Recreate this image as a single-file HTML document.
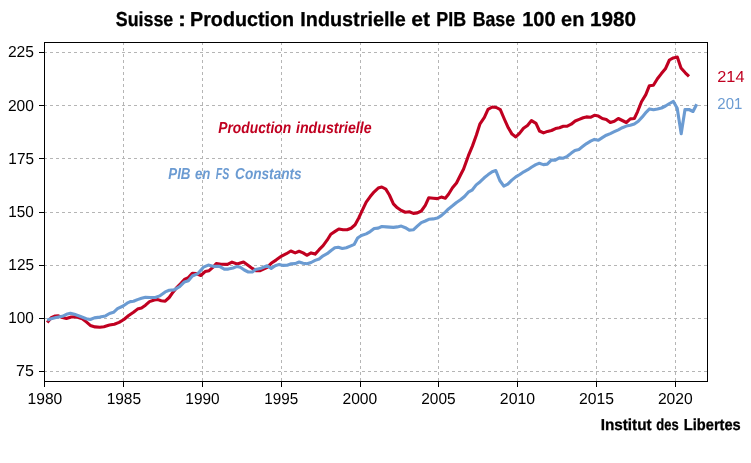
<!DOCTYPE html>
<html lang="fr">
<head>
<meta charset="utf-8">
<title>Suisse : Production Industrielle et PIB Base 100 en 1980</title>
<style>
html,body{margin:0;padding:0;background:#fff;}
body{width:751px;height:463px;overflow:hidden;}
svg{display:block;}
text{font-family:"Liberation Sans","DejaVu Sans",sans-serif;text-rendering:geometricPrecision;}
.tk{fill:#000;}
.title,.inst{font-weight:bold;fill:#000;stroke:#000;stroke-width:0.3px;}
.prod{font-weight:bold;font-style:italic;fill:#C00020;}
.pib{font-weight:bold;font-style:italic;fill:#6B9BD2;}
.v214{fill:#C00020;}
.v201{fill:#6B9BD2;}
</style>
</head>
<body>
<svg width="751" height="463" viewBox="0 0 751 463">
<rect x="0" y="0" width="751" height="463" fill="#ffffff"/>
<g stroke="#b5b5b5" stroke-width="1" stroke-dasharray="3 3" fill="none" shape-rendering="crispEdges">
<line x1="44.5" y1="381" x2="44.5" y2="43"/>
<line x1="123.5" y1="381" x2="123.5" y2="43"/>
<line x1="202.5" y1="381" x2="202.5" y2="43"/>
<line x1="281.5" y1="381" x2="281.5" y2="43"/>
<line x1="360.5" y1="381" x2="360.5" y2="43"/>
<line x1="438.5" y1="381" x2="438.5" y2="43"/>
<line x1="517.5" y1="381" x2="517.5" y2="43"/>
<line x1="596.5" y1="381" x2="596.5" y2="43"/>
<line x1="675.5" y1="381" x2="675.5" y2="43"/>
<line x1="44" y1="52.5" x2="707" y2="52.5"/>
<line x1="44" y1="105.5" x2="707" y2="105.5"/>
<line x1="44" y1="158.5" x2="707" y2="158.5"/>
<line x1="44" y1="212.5" x2="707" y2="212.5"/>
<line x1="44" y1="265.5" x2="707" y2="265.5"/>
<line x1="44" y1="318.5" x2="707" y2="318.5"/>
<line x1="44" y1="371.5" x2="707" y2="371.5"/>
</g>
<polyline fill="none" stroke="#C00020" stroke-width="3.1" stroke-linejoin="round" stroke-linecap="butt" points="47.2,322.5 51.2,317.7 55.2,316.0 58.4,315.9 62.4,317.6 66.4,318.4 71.2,317.0 76.0,316.8 82.3,318.7 86.3,321.9 90.3,325.4 95.1,326.9 99.9,327.2 103.9,326.7 109.5,325.1 114.3,324.2 119.1,322.4 123.9,319.5 128.7,315.5 133.5,312.3 137.5,309.1 141.5,308.0 145.5,305.2 149.5,301.6 154.3,300.0 157.2,299.4 161.2,300.7 165.2,301.2 169.2,297.5 173.2,291.9 177.2,287.1 181.2,283.1 184.4,279.5 188.4,277.6 192.3,273.2 196.3,273.6 200.8,275.5 205.1,271.6 209.1,270.7 213.1,267.2 216.3,263.6 221.1,264.3 227.5,264.4 232.0,262.1 237.1,264.0 243.5,262.1 248.3,265.6 252.3,268.4 256.3,270.8 260.3,270.6 264.0,268.9 267.2,267.3 271.2,263.3 276.0,260.1 281.6,256.1 286.4,253.7 290.8,251.0 295.2,252.9 299.1,251.3 303.1,252.9 306.8,255.3 311.1,252.9 315.1,254.1 319.1,249.7 323.1,245.7 327.1,240.2 330.8,234.2 335.1,231.4 338.8,229.0 343.1,229.8 347.1,229.8 351.1,228.2 355.1,224.8 358.9,217.7 362.4,210.2 366.2,202.2 370.2,196.6 374.2,191.8 378.2,188.1 381.8,187.0 385.8,189.1 389.4,195.0 393.4,203.8 397.3,207.8 401.3,210.5 405.3,212.2 409.3,211.8 413.3,213.4 417.3,212.9 421.3,211.0 425.3,205.4 428.8,197.7 433.3,198.2 437.3,198.6 441.3,197.1 445.3,198.2 448.5,194.2 452.5,187.8 456.5,183.0 460.5,175.0 463.6,169.0 468.4,155.7 472.4,146.1 476.4,135.0 480.0,123.8 484.4,117.4 488.0,109.4 492.3,107.0 496.3,107.5 500.3,109.7 504.3,119.0 508.3,127.8 512.0,134.1 515.8,136.9 519.5,133.4 523.5,128.2 527.5,125.4 531.5,120.6 536.0,123.4 539.5,131.0 543.5,132.9 547.5,131.4 551.5,130.5 555.5,128.6 559.5,127.8 563.3,126.3 567.3,126.1 571.2,124.2 575.2,121.0 579.2,119.4 583.2,117.7 586.4,116.9 590.4,117.3 594.4,115.3 598.4,116.1 602.3,118.5 606.3,119.4 610.3,122.5 614.3,121.3 618.3,118.5 622.3,120.5 626.3,122.5 630.3,118.9 634.3,118.5 637.5,111.8 641.5,101.7 645.8,94.6 649.4,85.7 653.4,85.2 657.4,78.7 661.4,73.6 665.4,68.8 669.4,60.0 673.3,57.9 677.3,57.1 681.0,68.0 685.3,72.8 689.0,76.4"/>
<polyline fill="none" stroke="#6B9BD2" stroke-width="3.1" stroke-linejoin="round" stroke-linecap="butt" points="47.2,319.9 51.2,318.7 56.0,317.6 62.4,316.3 66.4,314.3 70.4,313.3 74.4,314.3 79.9,316.3 86.3,318.7 90.3,319.5 94.3,317.9 99.9,317.1 105.5,315.9 109.5,313.5 113.5,312.3 117.5,308.7 123.1,306.0 127.1,303.2 130.3,301.6 133.5,301.3 137.5,299.6 141.5,298.3 145.5,297.2 150.3,297.5 155.4,297.5 159.6,295.9 165.2,291.9 169.2,290.3 174.0,289.9 179.6,286.7 184.4,281.9 188.4,280.7 192.3,276.0 197.9,273.6 203.5,267.2 208.3,265.1 213.9,266.4 219.5,266.4 224.3,269.1 228.3,269.1 233.1,268.0 237.1,266.4 240.3,267.2 244.3,270.0 248.3,272.0 252.3,272.0 255.5,269.6 260.3,268.6 264.0,267.0 267.2,265.7 271.2,268.4 275.2,265.7 279.2,264.4 283.2,265.4 287.2,265.2 291.2,263.8 295.2,263.6 299.1,262.0 303.1,263.3 307.1,263.8 311.1,262.5 315.1,260.4 319.1,259.0 323.1,255.8 327.1,253.7 331.1,250.5 334.8,247.8 338.3,247.3 342.3,248.5 346.3,247.8 350.3,246.1 354.3,244.3 357.6,238.0 361.4,235.5 366.2,233.9 370.2,231.6 374.2,228.5 378.2,228.1 381.8,226.5 386.2,226.9 393.4,227.4 397.3,226.9 401.3,226.1 405.3,227.7 409.3,230.1 413.3,229.8 417.3,226.1 421.3,222.6 425.3,221.0 428.8,219.3 433.3,218.9 437.3,218.1 441.3,215.7 445.3,212.2 448.5,208.9 452.5,205.8 456.5,202.5 460.5,199.8 464.5,196.5 468.3,192.2 472.0,190.2 476.2,184.9 480.2,181.7 484.2,177.8 488.2,174.6 492.2,171.8 495.8,170.5 499.8,180.5 503.8,186.1 507.8,184.1 511.8,180.1 515.8,176.9 519.8,174.5 523.8,171.8 527.8,169.7 531.8,167.0 535.8,164.6 539.3,163.3 543.3,164.6 547.3,164.1 551.3,160.1 555.3,160.1 559.3,157.9 563.3,158.2 567.3,156.3 571.3,153.1 574.9,150.5 578.9,149.4 582.6,146.6 586.6,143.6 590.6,141.2 594.4,139.4 598.4,140.2 602.3,137.6 606.3,135.2 610.3,133.6 614.3,131.7 618.3,129.8 622.3,127.7 626.3,126.1 630.3,125.3 634.3,124.1 638.3,121.3 642.3,116.9 646.3,112.1 649.5,108.9 653.5,109.7 657.5,109.0 661.5,108.0 665.5,106.0 669.5,103.5 673.4,101.4 677.2,108.2 681.2,133.8 685.0,109.6 689.0,109.5 693.0,111.5 696.7,104.3"/>
<g stroke="#000" stroke-width="1" fill="none" shape-rendering="crispEdges">
<rect x="44.5" y="42.5" width="663.0" height="339.0"/>
<line x1="44.50" y1="381.5" x2="44.50" y2="386.70"/>
<line x1="123.50" y1="381.5" x2="123.50" y2="386.70"/>
<line x1="202.50" y1="381.5" x2="202.50" y2="386.70"/>
<line x1="281.50" y1="381.5" x2="281.50" y2="386.70"/>
<line x1="360.50" y1="381.5" x2="360.50" y2="386.70"/>
<line x1="438.50" y1="381.5" x2="438.50" y2="386.70"/>
<line x1="517.50" y1="381.5" x2="517.50" y2="386.70"/>
<line x1="596.50" y1="381.5" x2="596.50" y2="386.70"/>
<line x1="675.50" y1="381.5" x2="675.50" y2="386.70"/>
<line x1="39.30" y1="52.50" x2="44.5" y2="52.50"/>
<line x1="39.30" y1="105.50" x2="44.5" y2="105.50"/>
<line x1="39.30" y1="158.50" x2="44.5" y2="158.50"/>
<line x1="39.30" y1="212.50" x2="44.5" y2="212.50"/>
<line x1="39.30" y1="265.50" x2="44.5" y2="265.50"/>
<line x1="39.30" y1="318.50" x2="44.5" y2="318.50"/>
<line x1="39.30" y1="371.50" x2="44.5" y2="371.50"/>
</g>
<g>
<text class="tk" y="57" font-size="15.9"><tspan x="7.94" textLength="26.05" lengthAdjust="spacingAndGlyphs">225</tspan></text>
<text class="tk" y="111" font-size="15.9"><tspan x="7.94" textLength="25.98" lengthAdjust="spacingAndGlyphs">200</tspan></text>
<text class="tk" y="164" font-size="15.9"><tspan x="8.36" textLength="25.59" lengthAdjust="spacingAndGlyphs">175</tspan></text>
<text class="tk" y="217" font-size="15.9"><tspan x="8.36" textLength="25.52" lengthAdjust="spacingAndGlyphs">150</tspan></text>
<text class="tk" y="270" font-size="15.9"><tspan x="8.36" textLength="25.59" lengthAdjust="spacingAndGlyphs">125</tspan></text>
<text class="tk" y="323" font-size="15.9"><tspan x="8.36" textLength="25.52" lengthAdjust="spacingAndGlyphs">100</tspan></text>
<text class="tk" y="376" font-size="15.9"><tspan x="16.07" textLength="17.85" lengthAdjust="spacingAndGlyphs">75</tspan></text>
</g>
<g>
<text class="tk" y="404" font-size="15.9"><tspan x="27.57" textLength="34.75" lengthAdjust="spacingAndGlyphs">1980</tspan></text>
<text class="tk" y="404" font-size="15.9"><tspan x="106.63" textLength="34.49" lengthAdjust="spacingAndGlyphs">1985</tspan></text>
<text class="tk" y="404" font-size="15.9"><tspan x="185.35" textLength="34.25" lengthAdjust="spacingAndGlyphs">1990</tspan></text>
<text class="tk" y="404" font-size="15.9"><tspan x="264.34" textLength="33.86" lengthAdjust="spacingAndGlyphs">1995</tspan></text>
<text class="tk" y="404" font-size="15.9"><tspan x="342.47" textLength="34.78" lengthAdjust="spacingAndGlyphs">2000</tspan></text>
<text class="tk" y="404" font-size="15.9"><tspan x="421.25" textLength="34.35" lengthAdjust="spacingAndGlyphs">2005</tspan></text>
<text class="tk" y="404" font-size="15.9"><tspan x="499.84" textLength="35.25" lengthAdjust="spacingAndGlyphs">2010</tspan></text>
<text class="tk" y="404" font-size="15.9"><tspan x="578.92" textLength="34.98" lengthAdjust="spacingAndGlyphs">2015</tspan></text>
<text class="tk" y="404" font-size="15.9"><tspan x="657.90" textLength="34.77" lengthAdjust="spacingAndGlyphs">2020</tspan></text>
</g>
<text class="title" y="26.0" font-size="20.3"><tspan x="115.84" textLength="57.37" lengthAdjust="spacingAndGlyphs">Suisse</tspan> <tspan x="178.00" textLength="8.00" lengthAdjust="spacingAndGlyphs">:</tspan> <tspan x="190.00" textLength="104.14" lengthAdjust="spacingAndGlyphs">Production</tspan> <tspan x="300.37" textLength="105.52" lengthAdjust="spacingAndGlyphs">Industrielle</tspan> <tspan x="411.39" textLength="18.75" lengthAdjust="spacingAndGlyphs">et</tspan> <tspan x="436.27" textLength="29.82" lengthAdjust="spacingAndGlyphs">PIB</tspan> <tspan x="472.70" textLength="42.39" lengthAdjust="spacingAndGlyphs">Base</tspan> <tspan x="522.24" textLength="33.33" lengthAdjust="spacingAndGlyphs">100</tspan> <tspan x="561.10" textLength="23.29" lengthAdjust="spacingAndGlyphs">en</tspan> <tspan x="590.09" textLength="46.02" lengthAdjust="spacingAndGlyphs">1980</tspan></text>
<text class="prod" y="133" font-size="15.9"><tspan x="218.22" textLength="72.95" lengthAdjust="spacingAndGlyphs">Production</tspan> <tspan x="296.00" textLength="75.63" lengthAdjust="spacingAndGlyphs">industrielle</tspan></text>
<text class="pib" y="179" font-size="15.9"><tspan x="168.25" textLength="22.27" lengthAdjust="spacingAndGlyphs">PIB</tspan> <tspan x="195.02" textLength="15.44" lengthAdjust="spacingAndGlyphs">en</tspan> <tspan x="215.76" textLength="13.48" lengthAdjust="spacingAndGlyphs">FS</tspan> <tspan x="235.06" textLength="66.59" lengthAdjust="spacingAndGlyphs">Constants</tspan></text>
<text class="v214" y="82" font-size="15.9"><tspan x="717.25" textLength="27.20" lengthAdjust="spacingAndGlyphs">214</tspan></text>
<text class="v201" y="109" font-size="15.9"><tspan x="717.32" textLength="24.99" lengthAdjust="spacingAndGlyphs">201</tspan></text>
<text class="inst" y="430" font-size="15.9"><tspan x="600.65" textLength="50.98" lengthAdjust="spacingAndGlyphs">Institut</tspan> <tspan x="656.34" textLength="22.30" lengthAdjust="spacingAndGlyphs">des</tspan> <tspan x="683.84" textLength="56.94" lengthAdjust="spacingAndGlyphs">Libertes</tspan></text>
</svg>
</body>
</html>
